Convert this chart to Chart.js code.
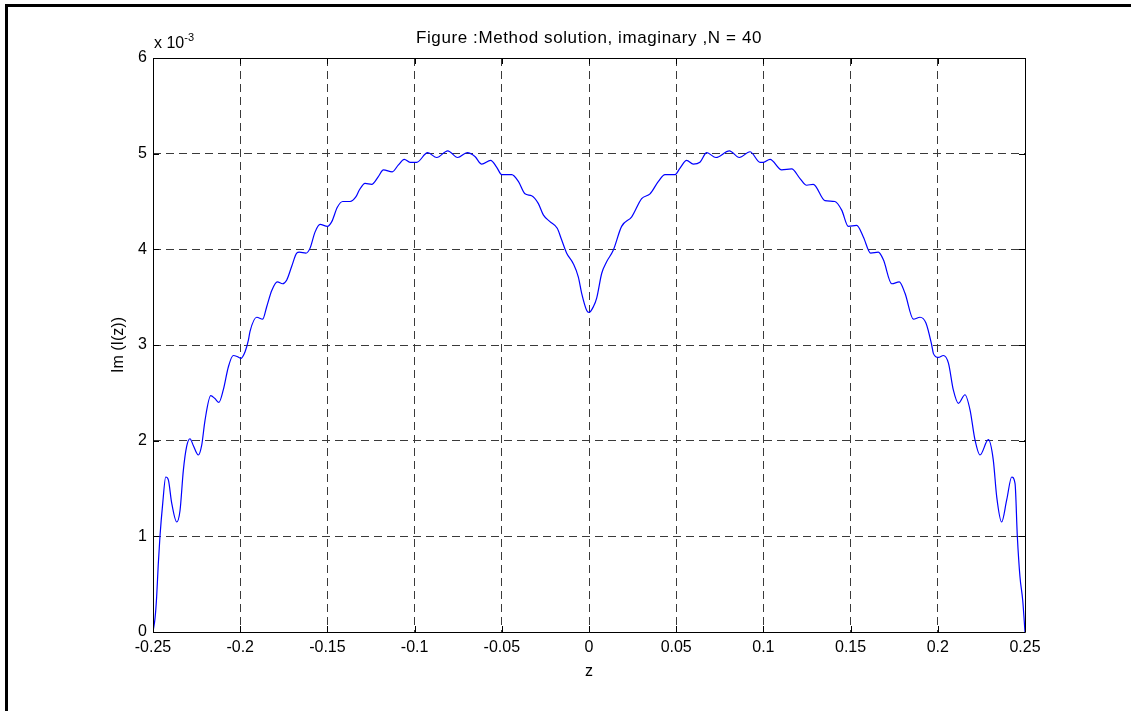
<!DOCTYPE html>
<html>
<head>
<meta charset="utf-8">
<title>Method solution, imaginary</title>
<script src="https://cdn.jsdelivr.net/npm/chart.js@4.4.1/dist/chart.umd.min.js"></script>
<style>
  html, body { margin: 0; padding: 0; background: #fff; }
  #wrap { position: relative; width: 1131px; height: 711px; overflow: hidden; font-family: "Liberation Sans", Arial, sans-serif; color: #000; }
  #plot { position: absolute; left: 0; top: 0; }
  .lbl { position: absolute; white-space: nowrap; font-size: 16px; line-height: 1; transform: translate(-50%, -50%); }
  #title { font-size: 17px; letter-spacing: 0.6px; }
  #expLabel { position: absolute; left: 154px; top: 35px; font-size: 16px; line-height: 1; white-space: nowrap; }
  #expLabel sup { font-size: 11px; position: relative; top: -3px; vertical-align: top; }
</style>
</head>
<body>
<div id="wrap">
  <canvas id="plot" width="1131" height="711"></canvas>
  <div class="lbl" id="title" style="left:589px; top:37px;">Figure :Method solution, imaginary ,N = 40</div>
  <div id="expLabel">x 10<sup>-3</sup></div>
  <div class="lbl" style="left:589px; top:671px;">z</div>
  <div class="lbl" style="left:118px; top:345px; transform: translate(-50%, -50%) rotate(-90deg);">Im (I(z))</div>
</div>
<script>
// Im(I(z)) along z, values in units of 1e-3 (axis multiplier shown separately)
const zVals = [
  -0.2500, -0.2488, -0.2479, -0.2470, -0.2460, -0.2444, -0.2427, -0.2412, -0.2393, -0.2364,
  -0.2345, -0.2326, -0.2307, -0.2288, -0.2269, -0.2240, -0.2221, -0.2202, -0.2169, -0.2145,
  -0.2122, -0.2097, -0.2068, -0.2040, -0.2018, -0.1997, -0.1972, -0.1953, -0.1944, -0.1905,
  -0.1871, -0.1848, -0.1819, -0.1787, -0.1757, -0.1733, -0.1705, -0.1676, -0.1661, -0.1623,
  -0.1600, -0.1571, -0.1542, -0.1500, -0.1475, -0.1443, -0.1412, -0.1370, -0.1336, -0.1317,
  -0.1284, -0.1246, -0.1208, -0.1179, -0.1128, -0.1094, -0.1059, -0.1026, -0.0988, -0.0925,
  -0.0873, -0.0810, -0.0753, -0.0698, -0.0654, -0.0615, -0.0564, -0.0530, -0.0500, -0.0443,
  -0.0405, -0.0367, -0.0329, -0.0291, -0.0262, -0.0224, -0.0182, -0.0157, -0.0128, -0.0090,
  -0.0061, -0.0042, -0.0013, 0.0000,
  0.0025, 0.0044, 0.0073, 0.0101, 0.0139, 0.0187, 0.0245, 0.0302, 0.0350, 0.0398,
  0.0436, 0.0493, 0.0522, 0.0560, 0.0598, 0.0636, 0.0675, 0.0728, 0.0805, 0.0862,
  0.0923, 0.0981, 0.1000, 0.1038, 0.1105, 0.1162, 0.1210, 0.1248, 0.1286, 0.1353,
  0.1410, 0.1449, 0.1487, 0.1535, 0.1573, 0.1615, 0.1659, 0.1688, 0.1736, 0.1779,
  0.1812, 0.1860, 0.1898, 0.1932, 0.1965, 0.1975, 0.2003, 0.2032, 0.2061, 0.2089,
  0.2118, 0.2156, 0.2185, 0.2213, 0.2242, 0.2290, 0.2318, 0.2338, 0.2366, 0.2395,
  0.2424, 0.2443, 0.2456, 0.2471, 0.2487, 0.2500
];
const imVals = [
  0.00, 0.15, 0.37, 0.70, 1.00, 1.35, 1.62, 1.59, 1.35, 1.15,
  1.27, 1.69, 1.94, 2.02, 1.95, 1.85, 1.95, 2.21, 2.47, 2.44,
  2.40, 2.53, 2.77, 2.89, 2.88, 2.86, 2.93, 3.05, 3.14, 3.29,
  3.27, 3.40, 3.57, 3.66, 3.64, 3.68, 3.82, 3.96, 3.97, 3.96,
  4.01, 4.18, 4.26, 4.24, 4.29, 4.44, 4.50, 4.50, 4.55, 4.62,
  4.69, 4.68, 4.76, 4.83, 4.81, 4.88, 4.94, 4.91, 4.91, 5.01,
  4.96, 5.03, 4.96, 5.01, 4.97, 4.89, 4.93, 4.86, 4.78, 4.78,
  4.71, 4.58, 4.56, 4.48, 4.36, 4.29, 4.22, 4.10, 3.96, 3.85,
  3.71, 3.54, 3.36, 3.34,
  3.40, 3.49, 3.75, 3.87, 3.99, 4.24, 4.34, 4.53, 4.58, 4.71,
  4.78, 4.78, 4.85, 4.93, 4.89, 4.91, 5.01, 4.96, 5.03, 4.96,
  5.02, 4.91, 4.91, 4.94, 4.83, 4.84, 4.74, 4.67, 4.68, 4.51,
  4.50, 4.41, 4.24, 4.25, 4.13, 3.96, 3.97, 3.89, 3.64, 3.66,
  3.54, 3.27, 3.29, 3.23, 3.00, 2.91, 2.87, 2.89, 2.81, 2.53,
  2.39, 2.48, 2.32, 2.01, 1.85, 2.01, 1.80, 1.41, 1.15, 1.38,
  1.62, 1.55, 1.00, 0.58, 0.33, 0.00
];
const xTickVals = [-0.25, -0.2, -0.15, -0.1, -0.05, 0, 0.05, 0.1, 0.15, 0.2, 0.25];
const yTickVals = [0, 1, 2, 3, 4, 5, 6];

const fmtTick = (v) => String(Number(v.toFixed(2)));

// axes box with inward ticks, plus the figure frame at top/left
const axesBox = {
  id: 'axesBox',
  afterDatasetsDraw(chart) {
    const { ctx, chartArea: a, scales } = chart;
    const tl = 6;
    ctx.save();
    ctx.strokeStyle = '#000';
    ctx.lineWidth = 1;
    ctx.setLineDash([]);
    ctx.beginPath();
    ctx.rect(Math.round(a.left) + 0.5, Math.round(a.top) + 0.5,
             Math.round(a.right - a.left), Math.round(a.bottom - a.top));
    ctx.stroke();
    ctx.beginPath();
    xTickVals.forEach(v => {
      const x = Math.round(scales.x.getPixelForValue(v)) + 0.5;
      ctx.moveTo(x, a.bottom); ctx.lineTo(x, a.bottom - tl);
      ctx.moveTo(x, a.top); ctx.lineTo(x, a.top + tl);
    });
    yTickVals.forEach(v => {
      const y = Math.round(scales.y.getPixelForValue(v)) + 0.5;
      ctx.moveTo(a.left, y); ctx.lineTo(a.left + tl, y);
      ctx.moveTo(a.right, y); ctx.lineTo(a.right - tl, y);
    });
    ctx.stroke();
    ctx.fillStyle = '#000';
    ctx.fillRect(5, 4, chart.width - 5, 3);
    ctx.fillRect(5, 4, 3, chart.height - 4);
    ctx.restore();
  }
};

const tickFont = { family: '"Liberation Sans", Arial, sans-serif', size: 16 };

new Chart(document.getElementById('plot'), {
  type: 'line',
  data: {
    datasets: [{
      data: zVals.map((z, i) => ({ x: z, y: imVals[i] })),
      borderColor: '#0000ff',
      borderWidth: 1.2,
      pointRadius: 0,
      fill: false,
      cubicInterpolationMode: 'monotone'
    }]
  },
  options: {
    responsive: false,
    animation: false,
    layout: { padding: { left: 0, top: 58, right: 106, bottom: 0 } },
    plugins: { legend: { display: false }, tooltip: { enabled: false }, title: { display: false } },
    scales: {
      x: {
        type: 'linear',
        min: -0.25, max: 0.25,
        afterBuildTicks: (s) => { s.ticks = xTickVals.map(v => ({ value: v })); },
        afterFit: (s) => { s.height = 79; },
        ticks: { color: '#000', font: tickFont, padding: 6, maxRotation: 0, autoSkip: false, callback: fmtTick },
        grid: { color: '#3a3a3a', lineWidth: 1, drawTicks: false },
        border: { display: false, dash: [8, 5] }
      },
      y: {
        type: 'linear',
        min: 0, max: 6,
        afterBuildTicks: (s) => { s.ticks = yTickVals.map(v => ({ value: v })); },
        afterFit: (s) => { s.width = 153; },
        ticks: { color: '#000', font: tickFont, padding: 6, callback: fmtTick },
        grid: { color: '#3a3a3a', lineWidth: 1, drawTicks: false },
        border: { display: false, dash: [8, 5] }
      }
    }
  },
  plugins: [axesBox]
});
</script>
</body>
</html>
